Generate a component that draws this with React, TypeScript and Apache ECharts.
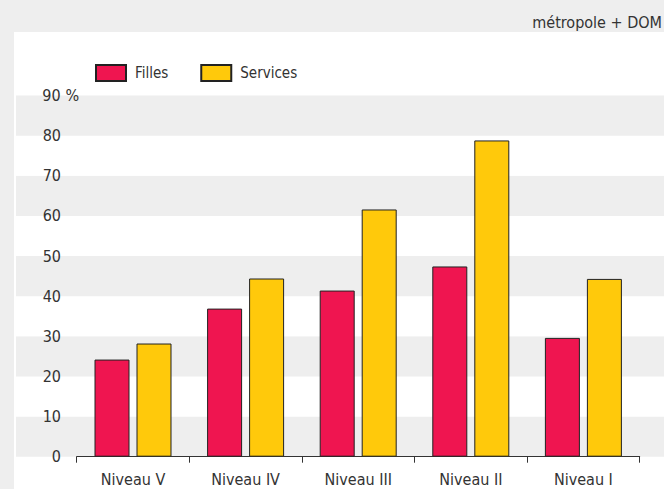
import React, { useEffect, useRef } from "react";
import * as echarts from "echarts";

const categories = ["Niveau V", "Niveau IV", "Niveau III", "Niveau II", "Niveau I"];
const filles = [24.2, 36.9, 41.4, 47.4, 29.6];
const services = [28.2, 44.4, 61.6, 78.8, 44.3];
const seriesNames = ["Filles", "Services"];
const yMin = 0;
const yMax = 90;
const yStep = 10;
const yUnit = " %";
const subtitle = "métropole + DOM";

const FONT = "'Liberation Sans Narrow', 'DejaVu Sans Condensed', 'Roboto', sans-serif";
const TXT = "#333333";

export default function App() {
  const ref = useRef<HTMLDivElement>(null);
  useEffect(() => {
    if (!ref.current) return;
    const chart = echarts.init(ref.current, undefined, { renderer: "svg" });
    const top = 95.5;
    const bottom = 32.3;
    chart.setOption({
      animation: false,
      backgroundColor: "transparent",
      textStyle: { fontFamily: FONT },
      title: {
        text: subtitle,
        right: 2,
        top: 14,
        padding: 0,
        textStyle: { fontFamily: FONT, fontSize: 16, fontWeight: "normal", color: TXT },
      },
      legend: {
        left: 95,
        top: 64,
        padding: 0,
        itemWidth: 30,
        itemHeight: 16,
        itemGap: 32,
        icon: "rect",
        data: seriesNames,
        textStyle: { fontFamily: FONT, fontSize: 15, color: TXT, padding: [0, 0, 0, 4] },
      },
      grid: [
        { left: 16, right: 0, top, bottom },
        { left: 76.7, right: 664 - 639.7, top, bottom },
      ],
      xAxis: [
        { type: "category", gridIndex: 0, data: categories, show: false },
        {
          type: "category",
          gridIndex: 1,
          data: categories,
          axisLine: { show: true, lineStyle: { color: "#333", width: 1 } },
          axisTick: { show: true, length: 6, lineStyle: { color: "#333" } },
          axisLabel: { fontFamily: FONT, fontSize: 16, color: TXT, margin: 15 },
          splitLine: { show: false },
        },
      ],
      yAxis: [
        {
          type: "value",
          gridIndex: 0,
          min: yMin,
          max: yMax,
          interval: yStep,
          axisLine: { show: false },
          axisTick: { show: false },
          splitLine: { show: false },
          splitArea: { show: true, areaStyle: { color: ["#eeeeee", "#ffffff"] } },
          axisLabel: {
            inside: true,
            margin: 26,
            align: "left",
            fontFamily: FONT,
            fontSize: 16,
            color: TXT,
            formatter: (v: number) => (v === yMax ? `{n|${v}}${yUnit}` : `{n|${v}}`),
            rich: {
              n: { width: 19, align: "right", fontFamily: FONT, fontSize: 16, color: TXT },
            },
          },
        },
        {
          type: "value",
          gridIndex: 1,
          min: yMin,
          max: yMax,
          interval: yStep,
          show: false,
          splitLine: { show: false },
        },
      ],
      series: [
        {
          name: seriesNames[0],
          type: "bar",
          xAxisIndex: 1,
          yAxisIndex: 1,
          data: filles,
          barWidth: 35,
          barGap: "20%",
          itemStyle: { color: "#ef1550", borderColor: "#222", borderWidth: 1 },
        },
        {
          name: seriesNames[1],
          type: "bar",
          xAxisIndex: 1,
          yAxisIndex: 1,
          data: services,
          barWidth: 35,
          barGap: "20%",
          itemStyle: { color: "#ffc90b", borderColor: "#222", borderWidth: 1 },
        },
      ],
    });
    return () => chart.dispose();
  }, []);
  return (
    <div style={{ position: "absolute", left: 0, top: 0, width: 664, height: 489, background: "#eeeeee", overflow: "hidden" }}>
      <div style={{ position: "absolute", left: 14, top: 32, width: 650, height: 457, background: "#ffffff" }} />
      <div ref={ref} style={{ position: "absolute", left: 0, top: 0, width: 664, height: 489 }} />
    </div>
  );
}
